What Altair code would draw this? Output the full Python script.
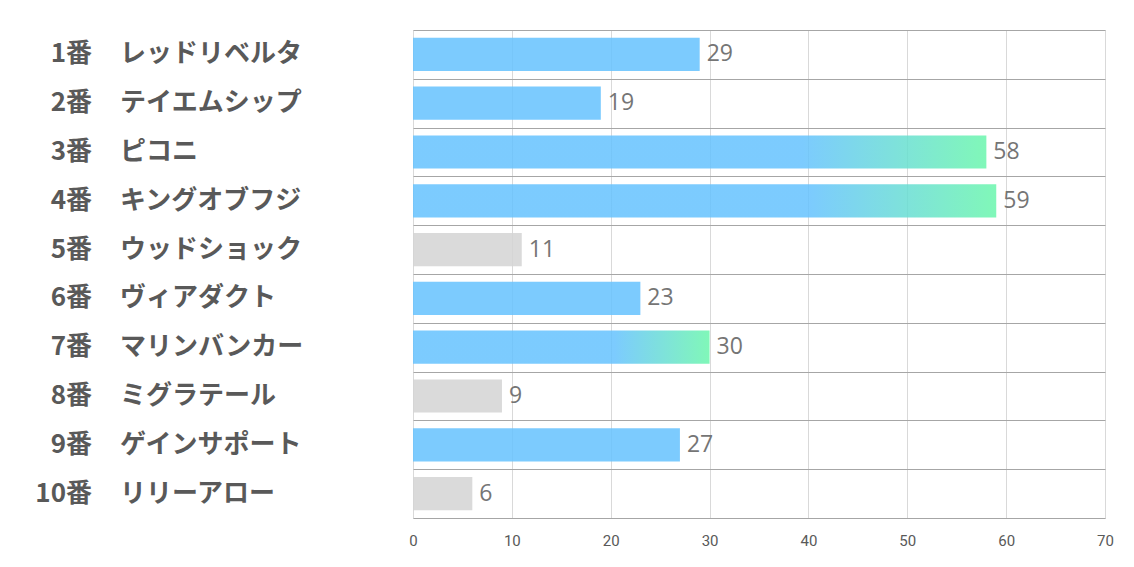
import altair as alt
import pandas as pd

nums = ["1番", "2番", "3番", "4番", "5番", "6番", "7番", "8番", "9番", "10番"]
names = ["レッドリベルタ", "テイエムシップ", "ピコニ", "キングオブフジ", "ウッドショック",
         "ヴィアダクト", "マリンバンカー", "ミグラテール", "ゲインサポート", "リリーアロー"]
values = [29, 19, 58, 59, 11, 23, 30, 9, 27, 6]
kinds = ["blue", "blue", "grad", "grad", "gray", "blue", "grad", "gray", "blue", "gray"]

df = pd.DataFrame({"key": nums, "name": names, "value": values, "kind": kinds})

BLUE = "#65c2fe"
GREEN = "#6af6ac"
GRAY = "#d3d3d3"
OP = 0.85
BAND = 0.68

y_enc = alt.Y(
    "key:N", sort=nums,
    scale=alt.Scale(paddingInner=0, paddingOuter=0),
    axis=alt.Axis(title=None, labels=False, ticks=False, domain=False, grid=True,
                  tickBand="extent", gridColor="#a6a6a6", gridWidth=1),
)
x_enc = alt.X(
    "value:Q", scale=alt.Scale(domain=[0, 70], nice=False),
    axis=alt.Axis(values=list(range(0, 71, 10)), title=None, grid=True, gridColor="#d9d9d9",
                  ticks=False, domain=False, labelPadding=15, labelFont="Roboto",
                  labelFontSize=15, labelColor="#595959", labelFlush=False),
)

base = alt.Chart(df)
bh = alt.RelativeBandSize(BAND)

blue_bars = base.transform_filter(alt.datum.kind == "blue").mark_bar(
    color=BLUE, fillOpacity=OP, height=bh).encode(x=x_enc, y=y_enc)
gray_bars = base.transform_filter(alt.datum.kind == "gray").mark_bar(
    color=GRAY, fillOpacity=OP, height=bh).encode(x=x_enc, y=y_enc)
grad_bars = base.transform_filter(alt.datum.kind == "grad").mark_bar(
    color=alt.Gradient(
        gradient="linear",
        stops=[alt.GradientStop(offset=0, color=BLUE),
               alt.GradientStop(offset=0.68, color=BLUE),
               alt.GradientStop(offset=1, color=GREEN)],
        x1=0, x2=1, y1=0, y2=0),
    fillOpacity=OP, height=bh).encode(x=x_enc, y=y_enc)

value_text = base.mark_text(
    align="left", baseline="middle", dx=7, font="Open Sans", fontSize=23, color="#757575"
).encode(x=x_enc, y=y_enc, text="value:Q")

num_text = base.mark_text(
    align="right", baseline="middle", font="Noto Sans CJK JP", fontWeight="bold",
    fontSize=26, color="#595959"
).encode(x=alt.value(92 - 413), y=y_enc, text="key:N")

name_text = base.mark_text(
    align="left", baseline="middle", font="Noto Sans CJK JP", fontWeight="bold",
    fontSize=26, color="#595959"
).encode(x=alt.value(120 - 413), y=y_enc, text="name:N")

chart = alt.layer(blue_bars, gray_bars, grad_bars, value_text, num_text, name_text).properties(
    width=692, height=488,
    padding={"left": 413, "top": 30, "right": 29, "bottom": 49},
    autosize=alt.AutoSizeParams(type="none"),
).configure_view(stroke=None).configure(background="white")

chart.save("out.html", embed_options={"renderer": "svg", "actions": False})
